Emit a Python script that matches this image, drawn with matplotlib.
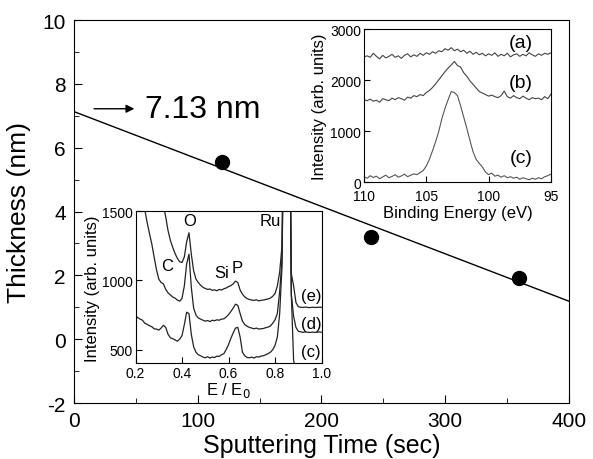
import matplotlib
matplotlib.use("Agg")
import matplotlib.pyplot as plt
import numpy as np

plt.rcParams['font.family'] = ['Liberation Sans', 'DejaVu Sans']
plt.rcParams['axes.unicode_minus'] = False

# thickness vs sputtering time
sput_time = [120, 240, 360]
thickness = [5.55, 3.2, 1.93]
fit_t = [0, 400]
fit_intercept = 7.13
fit_slope = -0.01485

# XPS Si 2p spectra (binding energy, eV)
be = np.arange(110, 94.99, -0.25)
xps_a = [2460, 2480, 2450, 2530, 2470, 2420, 2490, 2440, 2470, 2510, 2450, 2480, 2430, 2490, 2520, 2460,
         2500, 2470, 2530, 2490, 2540, 2510, 2560, 2530, 2580, 2560, 2620, 2590, 2640, 2580, 2610, 2560,
         2590, 2530, 2570, 2510, 2550, 2500, 2530, 2480, 2520, 2490, 2540, 2470, 2510, 2480, 2530, 2460,
         2500, 2520, 2470, 2510, 2480, 2540, 2500, 2470, 2520, 2490, 2530, 2510, 2540]
xps_b = [1620, 1600, 1630, 1590, 1610, 1570, 1640, 1620, 1600, 1650, 1620, 1660, 1640, 1610, 1670, 1650,
         1700, 1680, 1720, 1700, 1760, 1800, 1860, 1930, 2010, 2090, 2170, 2240, 2300, 2370, 2290, 2260,
         2150, 2080, 1990, 1920, 1850, 1780, 1750, 1720, 1690, 1710, 1680, 1660, 1700, 1790, 1680, 1650,
         1700, 1660, 1640, 1690, 1650, 1620, 1660, 1640, 1650, 1620, 1680, 1640, 1730]
xps_c = [110, 80, 130, 95, 120, 70, 105, 140, 90, 115, 150, 100, 125, 160, 110, 140,
         165, 150, 190, 230, 320, 450, 620, 800, 1000, 1250, 1450, 1620, 1780, 1760, 1700, 1500,
         1280, 1060, 820, 600, 450, 370, 300, 200, 150, 180, 120, 140, 100, 130, 90, 110,
         80, 100, 60, 90, 70, 50, 80, 60, 90, 70, 110, 130, 160]
xps_labels = ['(a)', '(b)', '(c)']
xps_label_y = [2740, 1950, 490]

# AES spectra (E / E0)
ee0 = np.round(np.arange(0.20, 1.001, 0.01), 2)
aes_c = [745, 730, 720, 712, 690, 682, 672, 665, 650, 648, 640, 655, 675, 660, 610, 585,
         578, 570, 560, 575, 600, 680, 770, 760, 610, 520, 480, 462, 455, 445, 440, 448,
         438, 445, 442, 452, 450, 462, 470, 500, 535, 580, 620, 655, 660, 590, 480, 455,
         442, 440, 445, 438, 448, 445, 452, 455, 462, 470, 480, 498, 530, 590, 760, 1100,
         2500, 5000, 3000, 900, 420, 350, 330, 325, 320, 322, 318, 320, 321, 319, 320, 320, 320]
aes_d = [2200, 2000, 1800, 1640, 1510, 1420, 1340, 1265, 1170, 1080, 1010, 985, 975, 935, 910, 895,
         880, 872, 858, 850, 870, 960, 1120, 1190, 950, 800, 750, 728, 720, 712, 705, 710,
         702, 712, 708, 715, 712, 720, 722, 735, 752, 775, 800, 828, 820, 760, 705, 680,
         668, 660, 655, 650, 655, 648, 650, 652, 658, 662, 670, 690, 715, 760, 920, 1150,
         2600, 5000, 3000, 900, 740, 660, 632, 628, 624, 627, 625, 623, 626, 624, 625, 627, 625]
aes_e = [3500, 3200, 2900, 2600, 2400, 2250, 2100, 1980, 1880, 1800, 1800, 1650, 1540, 1460, 1360, 1290,
         1240, 1195, 1160, 1135, 1130, 1170, 1280, 1345, 1190, 1070, 1010, 985, 965, 950, 942, 935,
         938, 928, 932, 925, 935, 930, 940, 945, 955, 962, 975, 995, 985, 930, 900, 880,
         868, 862, 858, 855, 860, 852, 856, 858, 862, 866, 872, 885, 905, 960, 1060, 1250,
         2800, 5000, 3000, 1050, 960, 840, 810, 806, 804, 807, 805, 803, 806, 804, 805, 806, 805]
aes_labels = ['(e)', '(d)', '(c)']
aes_label_y = [890, 687, 482]
peak_names = ['C', 'O', 'Si', 'P', 'Ru']
peak_pos = [(0.334, 1107), (0.434, 1432), (0.572, 1060), (0.636, 1096), (0.78, 1432)]

fig = plt.figure(figsize=(5.93, 4.6), dpi=100)
ax = fig.add_axes([0.1248, 0.1217, 0.8347, 0.8326])

ax.plot(fit_t, [fit_intercept + fit_slope * t for t in fit_t], color='k', lw=1.0)
ax.plot(sput_time, thickness, 'o', color='k', ms=10)
ax.set_xlim(0, 400)
ax.set_ylim(-2, 10)
ax.set_xticks([0, 100, 200, 300, 400])
ax.set_xticks([50, 150, 250, 350], minor=True)
ax.set_yticks([-2, 0, 2, 4, 6, 8, 10])
ax.set_yticks([-1, 1, 3, 5, 7, 9], minor=True)
ax.tick_params(which='both', direction='in', top=False, right=False, labelsize=15, pad=6)
ax.tick_params(which='major', length=6)
ax.tick_params(which='minor', length=3.5)
ax.set_xlabel('Sputtering Time (sec)', fontsize=18, labelpad=2)
ax.set_ylabel('Thickness (nm)', fontsize=19, labelpad=8)
ax.annotate('', xy=(51, 7.22), xytext=(14, 7.22),
            arrowprops=dict(arrowstyle='-|>', color='k', lw=1.0, mutation_scale=12))
ax.text(57, 7.22, '7.13 nm', fontsize=23, va='center', ha='left')

# XPS inset
ax1 = fig.add_axes([0.6138, 0.6015, 0.3153, 0.3326])
ax1.plot(be, xps_a, color='#444444', lw=0.8)
ax1.plot(be, xps_b, color='#444444', lw=0.8)
ax1.plot(be, xps_c, color='#555555', lw=0.8)
for lab, y in zip(xps_labels, xps_label_y):
    ax1.text(97.4, y, lab, fontsize=14, ha='center', va='center')
ax1.set_xlim(110, 95)
ax1.set_ylim(0, 3000)
ax1.set_xticks([110, 105, 100, 95])
ax1.set_yticks([0, 1000, 2000, 3000])
ax1.tick_params(direction='in', top=False, right=False, labelsize=10, length=4, pad=2)
ax1.tick_params(axis='x', pad=5)
ax1.set_xlabel('Binding Energy (eV)', fontsize=12, labelpad=1)
ax1.set_ylabel('Intensity (arb. units)', fontsize=12, labelpad=2)

# AES inset
ax2 = fig.add_axes([0.2285, 0.208, 0.3137, 0.3304])
for yy in (aes_e, aes_d, aes_c):
    ax2.plot(ee0, yy, color='#222222', lw=0.9)
for lab, y in zip(aes_labels, aes_label_y):
    ax2.text(0.955, y, lab, fontsize=12, ha='center', va='center')
for name, (px, py) in zip(peak_names, peak_pos):
    ax2.text(px, py, name, fontsize=12, ha='center', va='center')
ax2.set_xlim(0.2, 1.0)
ax2.set_ylim(400, 1500)
ax2.set_xticks([0.2, 0.4, 0.6, 0.8, 1.0])
ax2.set_yticks([500, 1000, 1500])
ax2.tick_params(direction='in', top=False, right=False, labelsize=10, length=4, pad=2)
ax2.set_xlabel('E / E$_0$', fontsize=12, labelpad=0)
ax2.set_ylabel('Intensity (arb. units)', fontsize=12, labelpad=1)

fig.savefig('out.png', dpi=100)
